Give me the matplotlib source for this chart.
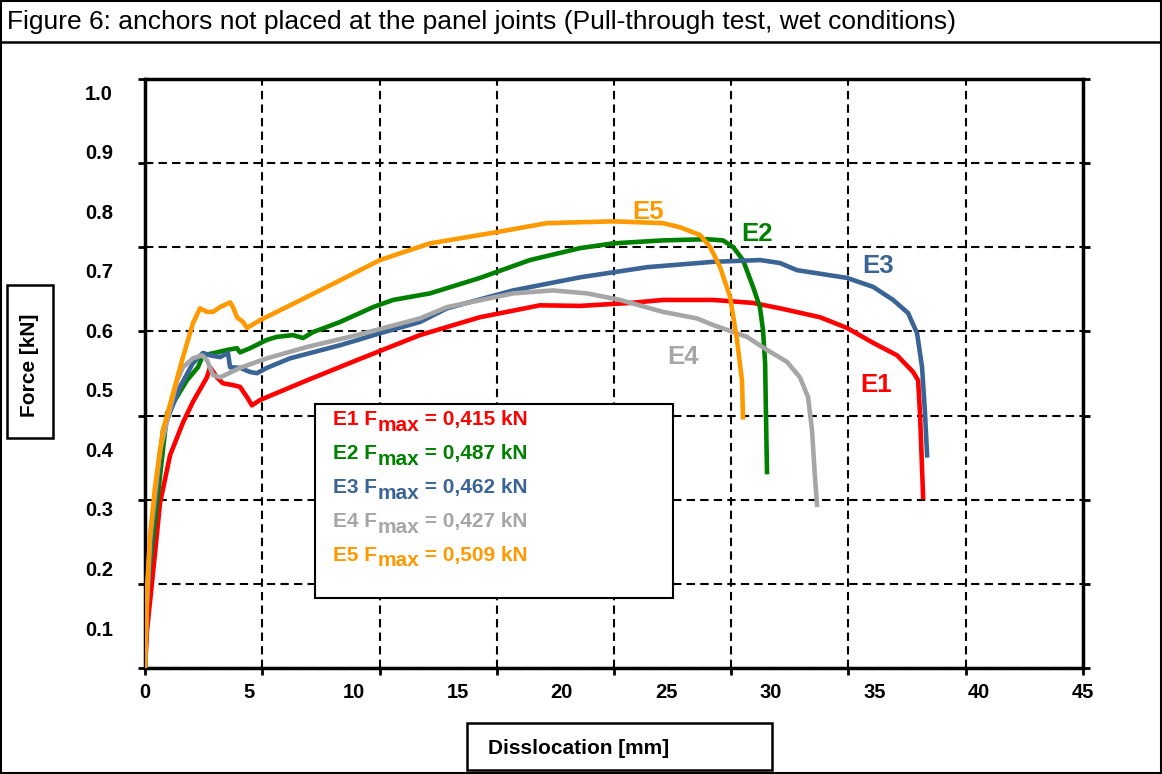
import numpy as np
import matplotlib
matplotlib.use('Agg')
import matplotlib.pyplot as plt
from matplotlib.patches import Rectangle

plt.rcParams['font.family'] = ['Liberation Sans', 'DejaVu Sans']

# --- data (dislocation in mm, force in kN) ---
e1_x = [0, 0.10, 0.48, 0.72, 1.20, 1.82, 2.30, 2.97, 3.12, 3.45, 3.74, 4.22, 4.56, 4.89, 5.13,
        5.52, 7.77, 10.17, 13.19, 16.07, 18.95, 20.87, 23.27, 24.85, 27.25, 29.17, 30.46,
        32.38, 33.68, 34.93, 36.08, 36.85, 37.09, 37.18, 37.33]
e1_y = [0.033, 0.097, 0.226, 0.310, 0.390, 0.445, 0.480, 0.521, 0.538, 0.521, 0.511, 0.508, 0.505,
        0.488, 0.474, 0.483, 0.516, 0.550, 0.592, 0.622, 0.642, 0.641, 0.646, 0.651, 0.651,
        0.646, 0.637, 0.622, 0.604, 0.579, 0.558, 0.530, 0.516, 0.461, 0.320]

e2_x = [0, 0.10, 0.48, 1.06, 2.01, 2.54, 2.78, 3.45, 3.93, 4.41, 4.56, 5.04, 5.85, 6.33, 7.10,
        7.58, 8.06, 9.36, 10.94, 11.90, 13.67, 16.07, 18.47, 20.87, 22.45, 24.85, 26.96, 27.73,
        28.21, 28.69, 29.17, 29.50, 29.65, 29.75, 29.79, 29.84]
e2_y = [0.033, 0.164, 0.281, 0.461, 0.516, 0.538, 0.558, 0.563, 0.567, 0.570, 0.563, 0.570, 0.584,
        0.589, 0.592, 0.587, 0.597, 0.614, 0.639, 0.651, 0.662, 0.688, 0.718, 0.738, 0.746,
        0.751, 0.753, 0.751, 0.740, 0.718, 0.673, 0.639, 0.600, 0.545, 0.461, 0.362]

e3_x = [0, 0.10, 0.34, 0.86, 1.68, 2.30, 2.78, 3.12, 3.60, 3.98, 4.08, 4.56, 5.04, 5.37, 5.85,
        6.96, 9.36, 11.27, 13.19, 14.49, 17.66, 20.87, 24.08, 27.25, 29.51, 30.46, 31.28,
        33.68, 34.93, 35.89, 36.61, 37.04, 37.28, 37.42, 37.52]
e3_y = [0.033, 0.147, 0.265, 0.432, 0.505, 0.545, 0.562, 0.558, 0.555, 0.562, 0.538, 0.537, 0.530,
        0.528, 0.537, 0.553, 0.575, 0.595, 0.614, 0.637, 0.667, 0.689, 0.706, 0.715, 0.718,
        0.713, 0.701, 0.688, 0.673, 0.651, 0.629, 0.595, 0.538, 0.461, 0.390]

e4_x = [0, 0.10, 0.24, 0.72, 1.54, 1.82, 2.30, 2.74, 2.97, 3.26, 3.60, 4.56, 5.85, 7.77, 10.17,
        13.19, 14.49, 17.66, 19.57, 21.21, 22.79, 24.85, 26.48, 27.25, 28.88, 29.84, 30.80,
        31.42, 31.81, 32.00, 32.14, 32.24]
e4_y = [0.033, 0.147, 0.253, 0.399, 0.516, 0.538, 0.553, 0.558, 0.550, 0.525, 0.521, 0.537, 0.553,
        0.572, 0.592, 0.620, 0.639, 0.662, 0.667, 0.662, 0.651, 0.631, 0.620, 0.609, 0.589,
        0.567, 0.547, 0.521, 0.488, 0.432, 0.354, 0.307]

e5_x = [0, 0.10, 0.24, 0.48, 0.86, 1.82, 2.30, 2.64, 2.97, 3.26, 3.60, 4.08, 4.22, 4.41, 4.70,
        4.89, 5.52, 6.96, 9.36, 11.27, 13.67, 16.89, 19.29, 22.45, 24.85, 25.67, 26.63, 27.11,
        27.59, 28.07, 28.40, 28.64, 28.69]
e5_y = [0.033, 0.169, 0.253, 0.337, 0.432, 0.555, 0.612, 0.637, 0.631, 0.631, 0.639, 0.647, 0.639,
        0.622, 0.614, 0.604, 0.617, 0.642, 0.684, 0.718, 0.746, 0.765, 0.780, 0.783, 0.780,
        0.773, 0.760, 0.740, 0.706, 0.656, 0.584, 0.516, 0.454]

names = ['E1', 'E2', 'E3', 'E4', 'E5']
colors = ['#FF0000', '#008000', '#3B6496', '#A6A6A6', '#FF9900']
fmax = ['0,415', '0,487', '0,462', '0,427', '0,509']
label_x = [35.07, 29.36, 35.17, 25.81, 24.13]
label_y = [0.508, 0.762, 0.708, 0.555, 0.798]

x_ticks = [0, 5, 10, 15, 20, 25, 30, 35, 40, 45]
y_ticks = [0.1, 0.2, 0.3, 0.4, 0.5, 0.6, 0.7, 0.8, 0.9, 1.0]
y_lo, y_hi = 0.033, 1.022

fig = plt.figure(figsize=(11.62, 7.74), dpi=100)
ax = fig.add_axes([0.1248, 0.1370, 0.8072, 0.7609])

series = [(e1_x, e1_y), (e2_x, e2_y), (e3_x, e3_y), (e4_x, e4_y), (e5_x, e5_y)]
for (xs, ys), c in zip(series, colors):
    ax.plot(xs, ys, color=c, linewidth=3.3, solid_joinstyle='round', zorder=3)

for n, c, lx, ly in zip(names, colors, label_x, label_y):
    ax.text(lx, ly, n, color=c, fontsize=18.5, fontweight='bold', ha='center', va='center', zorder=4)

ax.set_xlim(0, 45)
ax.set_ylim(y_lo, y_hi)

# grid lines sit on 8 x 7 equal divisions, labels on the value scale
ax.xaxis.remove_overlapping_locs = False
ax.set_xticks(np.linspace(0, 45, 9))
ax.set_xticklabels([])
ax.set_xticks(x_ticks, minor=True)
ax.set_xticklabels([str(v) for v in x_ticks], minor=True, fontsize=14.5, fontweight='bold')
ax.set_yticks(np.linspace(y_lo, y_hi, 8))
ax.set_yticklabels([])
ax.set_yticks(y_ticks, minor=True)
ax.set_yticklabels(['%.1f' % v for v in y_ticks], minor=True, fontsize=14.5, fontweight='bold')
ax.tick_params(which='major', length=5, width=2, direction='out', right=True)
ax.tick_params(axis='x', which='minor', length=0, pad=11)
ax.tick_params(axis='y', which='minor', length=0, pad=23)
ax.grid(True, which='major', color='black', linestyle=(0, (4, 2.5)), linewidth=1.5)
ax.set_axisbelow(True)
for s in ax.spines.values():
    s.set_linewidth(2.5)

# legend box with F_max values ("max" written full size, lowered)
ax.add_patch(Rectangle((0.181, 0.119), 0.382, 0.329, transform=ax.transAxes,
                       facecolor='white', edgecolor='black', linewidth=1.5, zorder=5))
for i, (n, c, f) in enumerate(zip(names, colors, fmax)):
    kw = dict(color=c, fontsize=15, fontweight='bold', zorder=6)
    t1 = ax.text(0.2, 0.405 - i * 0.0575, n + ' F', ha='left', va='bottom', transform=ax.transAxes, **kw)
    t2 = ax.annotate('max', xy=(1, 0), xycoords=t1, xytext=(0.5, -4), textcoords='offset points',
                     ha='left', va='bottom', **kw)
    ax.annotate(' = ' + f + ' kN', xy=(1, 0), xycoords=(t2, t1), ha='left', va='bottom', **kw)

# title row and frame
fig.add_artist(Rectangle((0.001, 0.001), 0.998, 0.998, transform=fig.transFigure,
                         fill=False, edgecolor='black', linewidth=1.5))
fig.add_artist(plt.Line2D([0, 1], [0.9457, 0.9457], transform=fig.transFigure, color='black', linewidth=1.8))
fig.text(0.006, 0.9716, 'Figure 6: anchors not placed at the panel joints (Pull-through test, wet conditions)',
         fontsize=19, ha='left', va='center')

# axis labels in boxes
fig.add_artist(Rectangle((0.006, 0.434), 0.0396, 0.1977, transform=fig.transFigure,
                         fill=False, edgecolor='black', linewidth=1.8))
fig.text(0.0258, 0.5284, 'Force [kN]', rotation=90, fontsize=15, fontweight='bold', ha='center', va='center')
fig.add_artist(Rectangle((0.4019, 0.0052), 0.2625, 0.0607, transform=fig.transFigure,
                         fill=False, edgecolor='black', linewidth=1.8))
fig.text(0.42, 0.0323, 'Disslocation [mm]', fontsize=15, fontweight='bold', ha='left', va='center')

fig.savefig('out.png', dpi=100)
